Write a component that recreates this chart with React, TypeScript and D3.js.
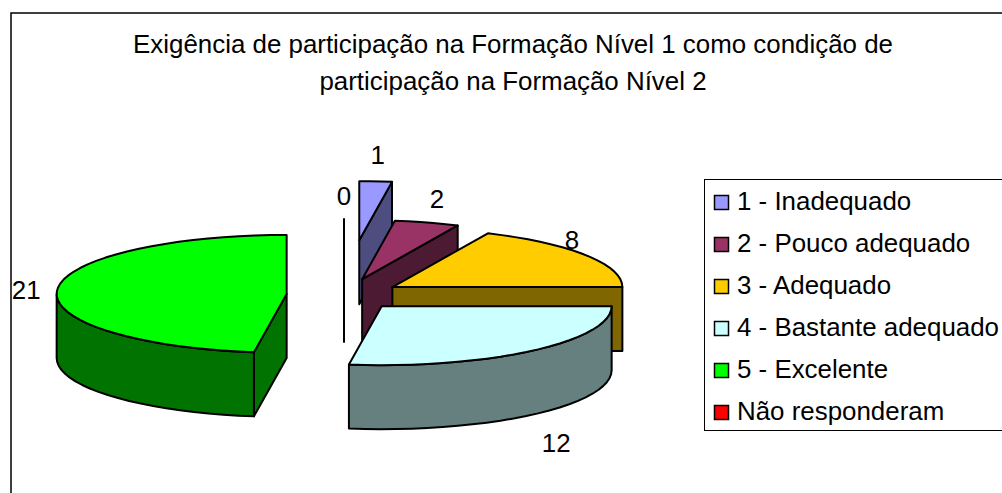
import { useEffect, useRef } from "react"
import * as d3 from "d3"

const categories = [
  "1 - Inadequado",
  "2 - Pouco adequado",
  "3 - Adequado",
  "4 - Bastante adequado",
  "5 - Excelente",
  "Não responderam",
]
const counts = [1, 2, 8, 12, 21, 0]
const titleLines = [
  "Exigência de participação na Formação Nível 1 como condição de",
  "participação na Formação Nível 2",
]

const topColors = ["#9999ff", "#993366", "#ffcc00", "#ccffff", "#00ff00", "#ff0000"]
const wallColors = ["#4d4d80", "#4d1a33", "#806600", "#668080", "#007300", "#000000"]
const explode = [0.93, 0.28, 0.25, 0.25, 0.25, 0]
const explodeZero = 0.29
// offset of each value label from the rim point at the slice's middle angle
const labelNudge = [
  [2, -26],
  [10, -24],
  [-14, -15],
  [24, 28],
  [-31, 0],
]

const width = 1002
const height = 493
const rx = 230
const ry = 59
const depth = 64
const cx = 344
const cy = 295
const fontSize = 25.9
const fontFamily = "Liberation Sans, Arial, sans-serif"

export default function App() {
  const svgRef = useRef<SVGSVGElement>(null)

  useEffect(() => {
    if (!svgRef.current) return

    d3.select(svgRef.current).selectAll("*").remove()

    const svg = d3
      .select(svgRef.current)
      .attr("width", width)
      .attr("height", height)
      .style("position", "absolute")
      .style("left", 0)
      .style("top", 0)
      .style("background", "#fff")

    // Frame of the chart area runs off the picture on the right and bottom
    svg
      .append("rect")
      .attr("x", 11)
      .attr("y", 13)
      .attr("width", width)
      .attr("height", height)
      .attr("fill", "#fff")
      .attr("stroke", "#000")
      .attr("stroke-width", 1.5)

    // Title
    svg
      .selectAll("text.title")
      .data(titleLines)
      .join("text")
      .attr("class", "title")
      .attr("x", 513)
      .attr("y", (_, i) => 53 + i * 37)
      .attr("text-anchor", "middle")
      .attr("font-family", fontFamily)
      .attr("font-size", fontSize)
      .attr("fill", "#000")
      .text((d) => d)

    const pie = d3
      .pie<number>()
      .sort(null)
      .value((d) => d)
    const arcs = pie(counts)

    const px = d3.scaleLinear().domain([-1, 1]).range([-rx, rx])
    const py = d3.scaleLinear().domain([-1, 1]).range([ry, -ry])
    const line = d3.line<[number, number]>()

    const rim = (a0: number, a1: number): [number, number][] => {
      const steps = Math.max(1, Math.ceil((a1 - a0) / 0.07))
      return d3.range(steps + 1).map((i) => {
        const a = a0 + ((a1 - a0) * i) / steps
        return [px(Math.sin(a)), py(Math.cos(a))]
      })
    }
    const down = (pts: [number, number][]): [number, number][] =>
      pts.map(([x, y]) => [x, y + depth])

    const drawSlice = (i: number) => {
      const d = arcs[i]
      const mid = (d.startAngle + d.endAngle) / 2
      const e = counts[i] === 0 ? explodeZero : explode[i]
      const g = svg
        .append("g")
        .attr(
          "transform",
          `translate(${cx + e * px(Math.sin(mid))},${cy + e * py(Math.cos(mid))})`
        )
      const shape = (pts: [number, number][], fill: string) =>
        g
          .append("path")
          .attr("d", line(pts) + "Z")
          .attr("fill", fill)
          .attr("stroke", "#000")
          .attr("stroke-width", 2)
          .attr("stroke-linejoin", "round")

      const center: [number, number] = [0, 0]

      const radialWall = (a: number) => {
        const p = rim(a, a)[0]
        shape([center, p, [p[0], p[1] + depth], [0, depth]], wallColors[i])
      }

      if (counts[i] === 0) {
        radialWall(d.endAngle)
        return
      }
      if (d.startAngle > Math.PI) radialWall(d.startAngle)
      if (d.endAngle < Math.PI) radialWall(d.endAngle)

      // Outer wall, only the part turned to the viewer
      const from = Math.max(d.startAngle, Math.PI / 2)
      const to = Math.min(d.endAngle, (3 * Math.PI) / 2)
      if (to > from) {
        const edge = rim(from, to)
        shape([...edge, ...down(edge).reverse()], wallColors[i])
      }

      shape([center, ...rim(d.startAngle, d.endAngle)], topColors[i])
    }

    // Back to front
    drawSlice(5)
    ;[0, 1, 2, 3, 4].forEach(drawSlice)

    // Value labels
    const labels = counts.map((v, i) => {
      const d = arcs[i]
      const mid = (d.startAngle + d.endAngle) / 2
      const e = v === 0 ? explodeZero : explode[i]
      const nudge = v === 0 ? [0, -23] : labelNudge[i]
      const isFront = Math.cos(mid) < 0 && Math.sin(mid) > 0
      return {
        v,
        x: cx + (e + 1) * px(Math.sin(mid)) + nudge[0],
        y: cy + (e + 1) * py(Math.cos(mid)) + (isFront ? depth : 0) + nudge[1],
      }
    })
    svg
      .selectAll("text.value")
      .data(labels)
      .join("text")
      .attr("class", "value")
      .attr("x", (d) => d.x)
      .attr("y", (d) => d.y)
      .attr("text-anchor", "middle")
      .attr("dominant-baseline", "central")
      .attr("font-family", fontFamily)
      .attr("font-size", fontSize)
      .attr("fill", "#000")
      .text((d) => d.v)

    // Legend
    const legendY = d3
      .scalePoint<string>()
      .domain(categories)
      .range([202.5, 412.5])

    const legend = svg.append("g")
    legend
      .append("rect")
      .attr("x", 704.5)
      .attr("y", 179.5)
      .attr("width", 320)
      .attr("height", 251)
      .attr("fill", "#fff")
      .attr("stroke", "#000")
    const rows = legend
      .selectAll("g")
      .data(categories)
      .join("g")
      .attr("transform", (d) => `translate(0,${legendY(d)})`)
    rows
      .append("rect")
      .attr("x", 714.5)
      .attr("y", -7)
      .attr("width", 14)
      .attr("height", 14)
      .attr("fill", (_, i) => topColors[i])
      .attr("stroke", "#000")
      .attr("stroke-width", 1.5)
    rows
      .append("text")
      .attr("x", 737)
      .attr("y", -2)
      .attr("dominant-baseline", "central")
      .attr("font-family", fontFamily)
      .attr("font-size", fontSize)
      .attr("fill", "#000")
      .text((d) => d)
  }, [])

  return <svg ref={svgRef} />
}
